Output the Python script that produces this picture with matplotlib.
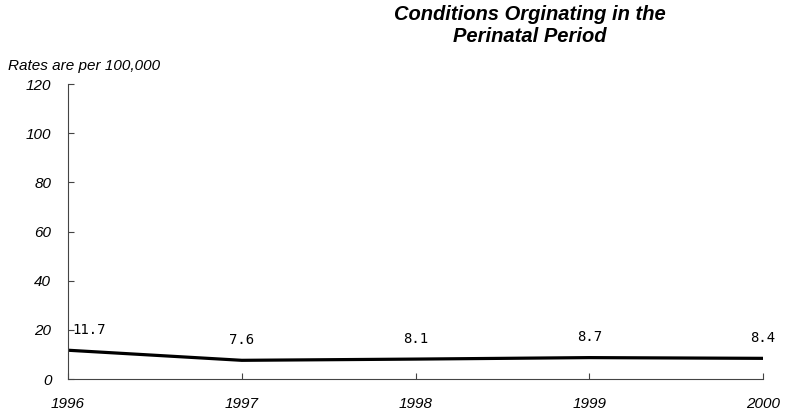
import matplotlib
matplotlib.use('Agg')
import matplotlib.pyplot as plt

# datos
years = [1996, 1997, 1998, 1999, 2000]
rates = [11.7, 7.6, 8.1, 8.7, 8.4]
yticks = [0, 20, 40, 60, 80, 100, 120]

plt.rcParams['font.family'] = ['Liberation Sans', 'DejaVu Sans']

fig = plt.figure(figsize=(7.93, 4.18), dpi=100)
ax = fig.add_axes([0.0858, 0.0933, 0.8764, 0.7057])

ax.plot(years, rates, color='black', linewidth=2.3)

# etiquetas de valores
for i, (x, y) in enumerate(zip(years, rates)):
    ha = 'left' if i == 0 else 'center'
    dx = 3 if i == 0 else 0
    ax.annotate(f'{y}', (x, y), xytext=(dx, 14.5), textcoords='offset points',
                ha=ha, va='center', fontsize=10, family='DejaVu Sans Mono')

ax.set_xlim(years[0], years[-1])
ax.set_ylim(0, 120)
ax.set_xticks(years)
ax.set_yticks(yticks)
ax.tick_params(direction='in', length=4, width=0.8, color='#444444',
               labelsize=11)
ax.tick_params(axis='x', pad=13)
ax.tick_params(axis='y', pad=12)
for lab in ax.get_xticklabels() + ax.get_yticklabels():
    lab.set_fontstyle('italic')

for s in ['top', 'right']:
    ax.spines[s].set_visible(False)
for s in ['left', 'bottom']:
    ax.spines[s].set_color('#444444')
    ax.spines[s].set_linewidth(0.8)

fig.text(0.668, 1 - 15 / 418, 'Conditions Orginating in the',
         ha='center', va='center', fontsize=14.5, fontweight='bold',
         fontstyle='italic')
fig.text(0.668, 1 - 37 / 418, 'Perinatal Period',
         ha='center', va='center', fontsize=14.5, fontweight='bold',
         fontstyle='italic')
fig.text(0.01, 1 - 66 / 418, 'Rates are per 100,000', ha='left', va='center',
         fontsize=11, fontstyle='italic')

fig.savefig('out.png', dpi=100)
